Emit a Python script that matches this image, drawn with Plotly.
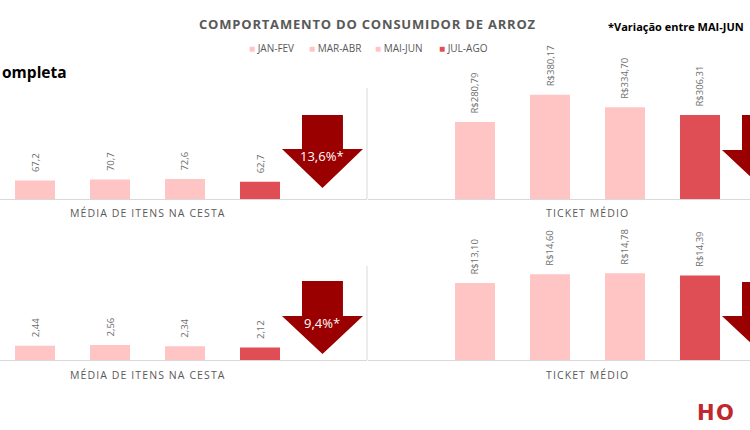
import plotly.graph_objects as go

# ---------------- data ----------------
periods = ["JAN-FEV", "MAR-ABR", "MAI-JUN", "JUL-AGO"]
period_colors = ["#FFC4C4", "#FFC4C4", "#FFC4C4", "#E04E55"]

itens_top = [67.2, 70.7, 72.6, 62.7]
itens_top_labels = ["67,2", "70,7", "72,6", "62,7"]
ticket_top = [280.79, 380.17, 334.70, 306.31]
ticket_top_labels = ["R$280,79", "R$380,17", "R$334,70", "R$306,31"]

itens_bot = [2.44, 2.56, 2.34, 2.12]
itens_bot_labels = ["2,44", "2,56", "2,34", "2,12"]
ticket_bot = [13.10, 14.60, 14.78, 14.39]
ticket_bot_labels = ["R$13,10", "R$14,60", "R$14,78", "R$14,39"]

variation_labels = ["13,6%*", "8,5%*", "9,4%*", "2,6%*"]
axis_titles = ["MÉDIA DE ITENS NA CESTA", "TICKET MÉDIO"]

# ---------------- layout helpers ----------------
W, H = 750, 430
def PX(x):
    return x / W
def PY(y):
    return 1 - y / H

STEP = 75.0          # px per category
BAR_W = 40.0
GRAY = "#595959"
LABEL_GRAY = "#6E6E6E"
ARROW = "#9B0000"
FONT = "Open Sans"

def spaced(text, px):
    return "<span style='letter-spacing:%spx'>%s</span>" % (px, text)

# panels: (x_domain_px, first_center_px, y_domain_px(top,bottom), ymax, values, labels)
panels = [
    ((0, 367), 35.0, (88, 199), 405, itens_top, itens_top_labels),
    ((368, 750), 475.0, (88, 199), 405, ticket_top, ticket_top_labels),
    ((0, 367), 35.0, (266, 360), 16, itens_bot, itens_bot_labels),
    ((368, 750), 475.0, (266, 360), 16, ticket_bot, ticket_bot_labels),
]
arrow_rows = [(115, 149, 188), (115, 150, 188), (281, 316, 354), (282, 316, 354)]
axis_title_y = [213, 213, 375, 375]

fig = go.Figure()
layout = dict()
shapes = []
annotations = []

for i, (xd, c0, yd, ymax, vals, labs) in enumerate(panels):
    n = "" if i == 0 else str(i + 1)
    xa, ya = "x" + n, "y" + n
    r0 = -(c0 - xd[0]) / STEP
    r1 = r0 + (xd[1] - xd[0]) / STEP
    fig.add_trace(go.Bar(
        x=periods, y=vals, marker=dict(color=period_colors, line=dict(width=0)),
        xaxis=xa, yaxis=ya, showlegend=False, hoverinfo="skip"))
    layout["xaxis" + n] = dict(domain=[PX(xd[0]), PX(xd[1])], range=[r0, r1],
                               anchor=ya, showticklabels=False, ticks="",
                               showgrid=False, zeroline=False, showline=True,
                               linecolor="#D9D9D9", linewidth=1, fixedrange=True)
    layout["yaxis" + n] = dict(domain=[PY(yd[1]), PY(yd[0])], range=[0, ymax],
                               anchor=xa, showticklabels=False, ticks="",
                               showgrid=False, zeroline=False, showline=False,
                               fixedrange=True)
    # value labels
    for p, v, lab in zip(periods, vals, labs):
        annotations.append(dict(x=p, y=v, xref=xa, yref=ya, text=lab, textangle=-90,
                                showarrow=False, xanchor="center", yanchor="bottom",
                                yshift=6, font=dict(family=FONT, size=9.5, color=LABEL_GRAY)))
    # axis title
    annotations.append(dict(x=1.5, y=PY(axis_title_y[i]), xref=xa, yref="paper",
                            xanchor="center", yanchor="middle",
                            text=spaced(axis_titles[i % 2], 1.1), showarrow=False,
                            font=dict(family=FONT, size=10.5, color=GRAY)))
    # down arrow
    top, mid, tip = arrow_rows[i]
    cx = 3.833
    sw, hw = 0.273, 0.54
    path = ("M {a},{t} L {b},{t} L {b},{m} L {c},{m} L {cx},{p} L {d},{m} L {a},{m} Z"
            .format(a=cx - sw, b=cx + sw, c=cx + hw, d=cx - hw, cx=cx,
                    t=PY(top), m=PY(mid), p=PY(tip)))
    shapes.append(dict(type="path", path=path, xref=xa, yref="paper",
                       fillcolor=ARROW, line=dict(width=0), layer="above"))
    annotations.append(dict(x=cx, y=PY(mid + 7), xref=xa, yref="paper",
                            xanchor="center", yanchor="middle",
                            text=variation_labels[i], showarrow=False,
                            font=dict(family=FONT, size=13, color="white")))

# vertical dividers
for (t, b) in [(88, 199), (266, 360)]:
    shapes.append(dict(type="line", xref="paper", yref="paper",
                       x0=PX(367), x1=PX(367), y0=PY(t), y1=PY(b),
                       line=dict(color="#D9D9D9", width=1)))

# titles
annotations.append(dict(x=PX(367), y=PY(24), xref="paper", yref="paper",
                        xanchor="center", yanchor="middle",
                        text="<b>" + spaced("COMPORTAMENTO DO CONSUMIDOR DE ARROZ", 0.8) + "</b>",
                        showarrow=False, font=dict(family=FONT, size=13, color=GRAY)))
annotations.append(dict(x=PX(746), y=PY(27), xref="paper", yref="paper",
                        xanchor="right", yanchor="middle",
                        text="<b>*Variação entre MAI-JUN</b>", showarrow=False,
                        font=dict(family=FONT, size=11, color="black")))
annotations.append(dict(x=PX(0), y=PY(72), xref="paper", yref="paper",
                        xanchor="left", yanchor="middle",
                        text="<b>ompleta</b>", showarrow=False,
                        font=dict(family=FONT, size=15.5, color="black")))
annotations.append(dict(x=PX(695), y=PY(413), xref="paper", yref="paper",
                        xanchor="left", yanchor="middle",
                        text="<b>" + spaced("HO", 1.5) + "</b>", showarrow=False,
                        font=dict(family="DejaVu Sans", size=21, color="#C1272D")))

# legend (built from periods/colors)
legend_x = [247, 307, 373, 437]
for p, c, lx in zip(periods, period_colors, legend_x):
    annotations.append(dict(x=PX(lx), y=PY(48), xref="paper", yref="paper",
                            xanchor="left", yanchor="middle",
                            text="<span style='color:%s'>■</span> %s" % (c, p),
                            showarrow=False, font=dict(family=FONT, size=10, color=GRAY)))

fig.update_layout(
    width=W, height=H, margin=dict(l=0, r=0, t=0, b=0),
    paper_bgcolor="white", plot_bgcolor="white",
    bargap=1 - BAR_W / STEP, showlegend=False, hovermode=False,
    shapes=shapes, annotations=annotations, **layout)

fig.write_html("out.html", config={"displayModeBar": False, "staticPlot": True},
               post_script="document.body.style.margin='0';document.body.style.overflow='hidden';")
